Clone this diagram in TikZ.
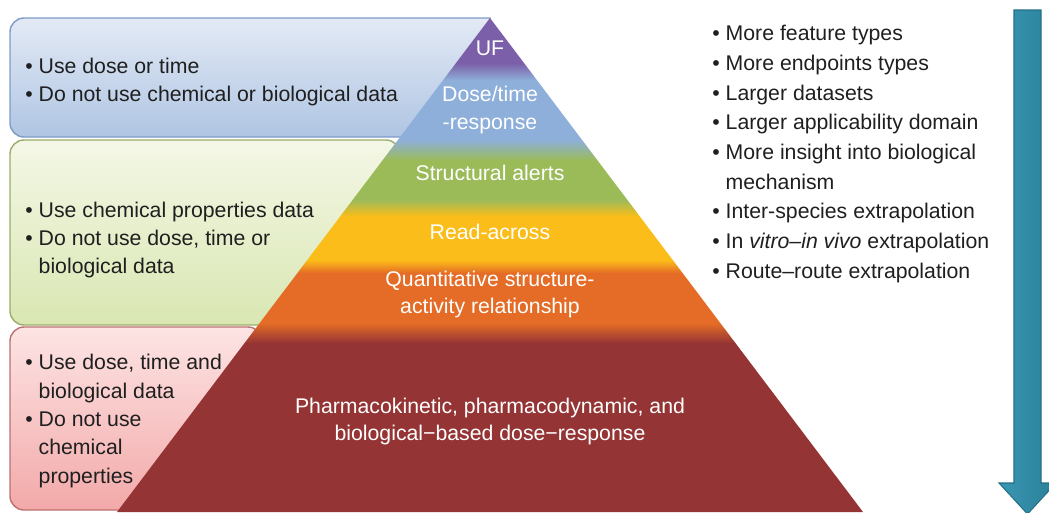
\documentclass[tikz,border=0pt]{standalone}
\usepackage{fontspec}
\setmainfont{Liberation Sans}
\usetikzlibrary{calc}

\definecolor{lvpurple}{HTML}{7B5FA8}
\definecolor{lvblue}{HTML}{8EAFD9}
\definecolor{lvgreen}{HTML}{9BBB59}
\definecolor{lvyellow}{HTML}{FBBD19}
\definecolor{lvorange}{HTML}{E46C26}
\definecolor{lvred}{HTML}{953434}
\definecolor{bluetop}{HTML}{E3EAF5}
\definecolor{bluebot}{HTML}{AFC5E3}
\definecolor{blueedge}{HTML}{7E9BC6}
\definecolor{greentop}{HTML}{F4F7E6}
\definecolor{greenbot}{HTML}{D9E7B2}
\definecolor{greenedge}{HTML}{9AAD6C}
\definecolor{redtop}{HTML}{FDE4E4}
\definecolor{redbot}{HTML}{F3A9A9}
\definecolor{rededge}{HTML}{BD7070}
\definecolor{arrowlight}{HTML}{3A97B3}
\definecolor{arrowteal}{HTML}{2A7F98}
\definecolor{arrowedge}{HTML}{236F86}

\pgfdeclareverticalshading{levels}{100bp}{color(0bp)=(lvred); color(42.1bp)=(lvred);
  color(44.1bp)=(lvorange); color(49.2bp)=(lvorange); color(50.5bp)=(lvyellow);
  color(54.9bp)=(lvyellow); color(56.6bp)=(lvgreen); color(60.6bp)=(lvgreen);
  color(62.65bp)=(lvblue); color(68.7bp)=(lvblue); color(70.4bp)=(lvpurple);
  color(100bp)=(lvpurple)}

\newcommand{\bul}{\textbullet\ }
\newcommand{\hang}{\hphantom{\textbullet\ }}

\tikzset{
  groupbox/.style={rounded corners=8, line width=0.8pt},
  boxtext/.style={anchor=west, align=left, inner sep=0pt, text=black!88,
    font=\fontsize{12.1}{16.2}\selectfont},
  listtext/.style={boxtext, font=\fontsize{12.1}{16.9}\selectfont},
  levellabel/.style={align=center, inner sep=0pt, text=white,
    font=\fontsize{12.1}{15.8}\selectfont}
}

\begin{document}
\begin{tikzpicture}[x=0.02cm, y=-0.02cm]
			%%%%% START %%%%%
			\useasboundingbox (0,0) rectangle (1049,512);

			% groups behind the pyramid
			\draw[groupbox, draw=blueedge, top color=bluetop, bottom color=bluebot] (250,18) -- (10,18) -- (10,137) -- (490,137) [sharp corners] -- (490,18) -- cycle;
			\draw[groupbox, draw=greenedge, top color=greentop, bottom color=greenbot] (10,140) rectangle (400,325);
			\draw[groupbox, draw=rededge, top color=redtop, bottom color=redbot] (10,327) rectangle (262,510);

			% pyramid
			\shade[shading=levels] (490,18) -- (863,512) -- (117,512) -- cycle;

			\node[levellabel] (uf) at (490,48) {UF};
			\node[levellabel] (doseresp) at (490,110) {Dose/time\\-response};
			\node[levellabel] (alerts) at (490,173) {Structural alerts};
			\node[levellabel] (readacross) at (490,232) {Read-across};
			\node[levellabel] (qsar) at (490,294.5) {Quantitative structure-\\activity relationship};
			\node[levellabel] (pbpk) at (490,421.5) {Pharmacokinetic, pharmacodynamic, and\\biological−based dose−response};

			% group texts
			\node[boxtext] (dosetext) at (25,82) {\bul Use dose or time\\\bul Do not use chemical or biological data};
			\node[boxtext] (chemtext) at (25,240) {\bul Use chemical properties data\\\bul Do not use dose, time or\\\hang biological data};
			\node[boxtext] (biotext) at (25,421) {\bul Use dose, time and\\\hang biological data\\\bul Do not use\\\hang chemical\\\hang properties};

			% gains towards the base
			\node[listtext] (gains) at (712,154) {\bul More feature types\\\bul More endpoints types\\\bul Larger datasets\\\bul Larger applicability domain\\\bul More insight into biological\\\hang mechanism\\\bul Inter-species extrapolation\\\bul In \textit{vitro–in vivo} extrapolation\\\bul Route–route extrapolation};

			% downward arrow
			\draw[line width=0.6pt, draw=arrowedge, left color=arrowlight, right color=arrowteal] (1014,10) -- (1041,10) -- (1041,483) -- (1056,483)
			  -- (1027.5,514) -- (999,483) -- (1014,483) -- cycle;
			%%%%% END %%%%%
\end{tikzpicture}
\end{document}
